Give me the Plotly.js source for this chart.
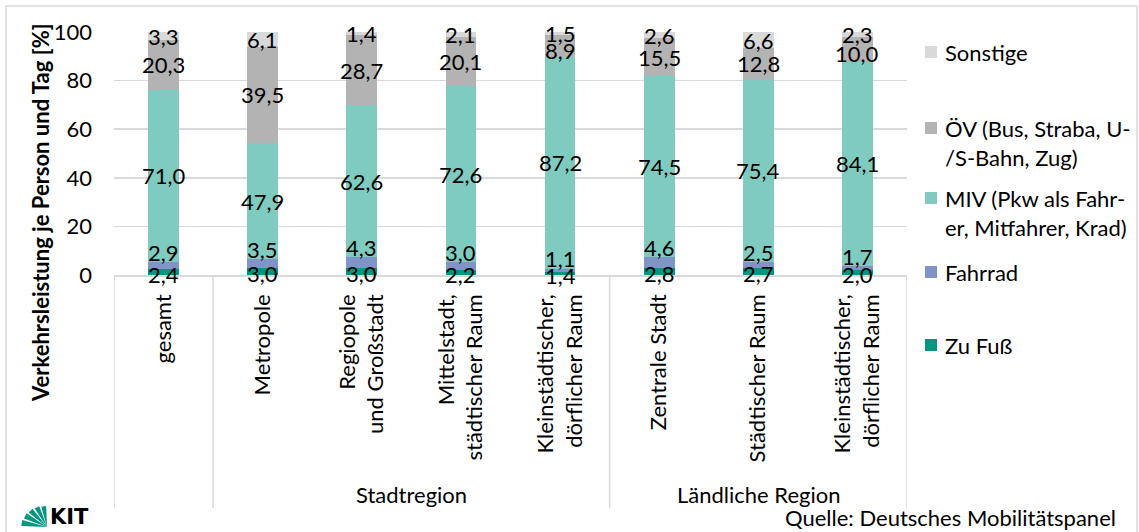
<!DOCTYPE html>
<html>
<head>
<meta charset="utf-8">
<script src="https://cdn.plot.ly/plotly-3.0.1.min.js"></script>
<style>html,body{margin:0;padding:0;background:#fff;}#chart{width:1139px;height:532px;}</style>
</head>
<body>
<div id="chart"></div>
<script>
// ---- data ----
const categories = ["gesamt", "Metropole", "Regiopole<br>und Großstadt", "Mittelstadt,<br>städtischer Raum",
  "Kleinstädtischer,<br>dörflicher Raum", "Zentrale Stadt", "Städtischer Raum", "Kleinstädtischer,<br>dörflicher Raum"];
const groupLabels = ["Stadtregion", "Ländliche Region"];
const groupStart = [1, 5];   // first category index of each group
const groupEnd = [4, 7];     // last category index of each group
const zuFuss   = [2.4, 3.0, 3.0, 2.2, 1.4, 2.8, 2.7, 2.0];
const fahrrad  = [2.9, 3.5, 4.3, 3.0, 1.1, 4.6, 2.5, 1.7];
const miv      = [71.0, 47.9, 62.6, 72.6, 87.2, 74.5, 75.4, 84.1];
const oev      = [20.3, 39.5, 28.7, 20.1, 8.9, 15.5, 12.8, 10.0];
const sonstige = [3.3, 6.1, 1.4, 2.1, 1.5, 2.6, 6.6, 2.3];
const seriesNames = ["Zu Fuß", "Fahrrad", "MIV (Pkw als Fahr-<br>er, Mitfahrer, Krad)", "ÖV (Bus, Straba, U-<br>/S-Bahn, Zug)", "Sonstige"];
const yTicks = [0, 20, 40, 60, 80, 100];

// ---- styling ----
const colors = ["#009682", "#8094c8", "#80cbbf", "#b3b3b3", "#d9d9d9"];
const FONT = "Lato, 'Open Sans', sans-serif";
const FS = 22;
const W = 1139, H = 532;
const M = {l: 114, r: 232, t: 32, b: 257};
const plotW = W - M.l - M.r, plotH = H - M.t - M.b;
const px2x = p => (p - M.l) / plotW;
const px2y = p => (H - M.b - p) / plotH;

const series = [zuFuss, fahrrad, miv, oev, sonstige];
const xIdx = categories.map((c, i) => i);
const fmt = v => v.toFixed(1).replace('.', ',');

const traces = series.map((vals, s) => ({
  type: 'bar', x: xIdx, y: vals, name: seriesNames[s].replace('<br>', ''),
  marker: {color: colors[s], line: {width: 0}},
  hoverinfo: 'y+name', showlegend: false
}));

const annotations = [];
// data labels
for (let i = 0; i < categories.length; i++) {
  let base = 0;
  for (let s = 0; s < series.length; s++) {
    const v = series[s][i];
    let y, yshift = 0;
    if (s === 1) { y = base + v; yshift = 10; }        // Fahrrad: label just above its segment
    else if (s === 0) { y = base + v / 2; yshift = -2; }
    else if (s === 3 && v < 11) { y = base + v / 2; yshift = -4; } // small ÖV labels nudged down, as in the original
    else { y = base + v / 2; }
    annotations.push({x: i, y: y, xref: 'x', yref: 'y', text: fmt(v), showarrow: false,
      yshift: yshift, xanchor: 'center', yanchor: 'middle',
      font: {family: FONT, size: FS, color: '#000'}});
    base += v;
  }
}
// y-axis title
annotations.push({xref: 'paper', yref: 'paper', x: px2x(40), y: px2y(213), textangle: -90,
  text: '<b>Verkehrsleistung je Person und Tag [%]</b>', showarrow: false,
  xanchor: 'center', yanchor: 'middle', font: {family: FONT, size: FS, color: '#000'}});
// group labels
groupLabels.forEach((g, k) => {
  annotations.push({xref: 'x', yref: 'paper', x: (groupStart[k] + groupEnd[k]) / 2, y: px2y(495),
    text: g, showarrow: false, xanchor: 'center', yanchor: 'middle',
    font: {family: FONT, size: FS, color: '#000'}});
});
// source
annotations.push({xref: 'paper', yref: 'paper', x: px2x(1118), y: px2y(517), text: 'Quelle: Deutsches Mobilitätspanel',
  showarrow: false, xanchor: 'right', yanchor: 'middle', font: {family: FONT, size: FS, color: '#000'}});
// KIT text
annotations.push({xref: 'paper', yref: 'paper', x: px2x(48), y: px2y(517), text: '<b>KIT</b>',
  showarrow: false, xanchor: 'left', yanchor: 'middle', font: {family: "'DejaVu Sans', sans-serif", size: 21, color: '#000'}});

// legend (custom, top to bottom)
const legendOrder = [4, 3, 2, 1, 0];
const legendY = [52, 128, 198, 272, 345];
const shapes = [];
legendOrder.forEach((s, k) => {
  const cy = legendY[k];
  shapes.push({type: 'rect', xref: 'paper', yref: 'paper', x0: px2x(925), x1: px2x(937),
    y0: px2y(cy - 6), y1: px2y(cy + 6), fillcolor: colors[s], line: {width: 0}});
  annotations.push({xref: 'paper', yref: 'paper', x: px2x(943), y: px2y(cy - 15), text: seriesNames[s],
    showarrow: false, xanchor: 'left', yanchor: 'top', align: 'left',
    font: {family: FONT, size: FS, color: '#000'}});
});

// category separators
const seps = [-0.5, groupStart[0] - 0.5, groupStart[1] - 0.5, categories.length - 0.5];
seps.forEach(x => shapes.push({type: 'line', xref: 'x', yref: 'paper', x0: x, x1: x, y0: 0, y1: px2y(508),
  line: {color: '#d9d9d9', width: 1.5}}));
// outer frame
shapes.push({type: 'rect', xref: 'paper', yref: 'paper', x0: px2x(6), x1: px2x(1137), y0: px2y(545), y1: px2y(6),
  line: {color: '#d9d9d9', width: 1.5}, fillcolor: 'rgba(0,0,0,0)', layer: 'below'});
// KIT fan logo
const fanN = 5;
for (let k = 0; k < fanN; k++) {
  const a0 = Math.PI / 2 + k * (Math.PI / 2) / fanN + 0.04;
  const a1 = Math.PI / 2 + (k + 1) * (Math.PI / 2) / fanN - 0.04;
  const R = 21 + k * 1.2;
  const p = (a, r) => `${(r * Math.cos(a)).toFixed(2)},${(r * Math.sin(a)).toFixed(2)}`;
  shapes.push({type: 'path', xref: 'paper', yref: 'paper', xsizemode: 'pixel', ysizemode: 'pixel',
    xanchor: px2x(47), yanchor: px2y(527),
    path: `M0,0 L${p(a0, R)} L${p(a1, R)} Z`, fillcolor: '#009682', line: {width: 0}});
}

const layout = {
  width: W, height: H, margin: M, barmode: 'stack', bargap: 0.69,
  paper_bgcolor: '#fff', plot_bgcolor: '#fff', showlegend: false,
  font: {family: FONT, size: FS, color: '#000'},
  xaxis: {type: 'linear', range: [-0.5, categories.length - 0.5], tickmode: 'array', tickvals: xIdx, ticktext: categories,
    tickangle: -90, showgrid: false, zeroline: false, showline: true, linecolor: '#d9d9d9', linewidth: 1.5,
    ticks: '', ticklabelstandoff: 9, tickfont: {family: FONT, size: FS, color: '#000'}, fixedrange: true},
  yaxis: {range: [0, 100], tickmode: 'array', tickvals: yTicks, ticktext: yTicks.map(String),
    showgrid: true, gridcolor: '#d9d9d9', gridwidth: 1.5, zeroline: false, showline: false,
    ticks: '', ticklabelstandoff: 21, tickfont: {family: FONT, size: FS, color: '#000'}, fixedrange: true},
  annotations: annotations, shapes: shapes
};
Plotly.newPlot('chart', traces, layout, {displayModeBar: false, staticPlot: true});
</script>
</body>
</html>
